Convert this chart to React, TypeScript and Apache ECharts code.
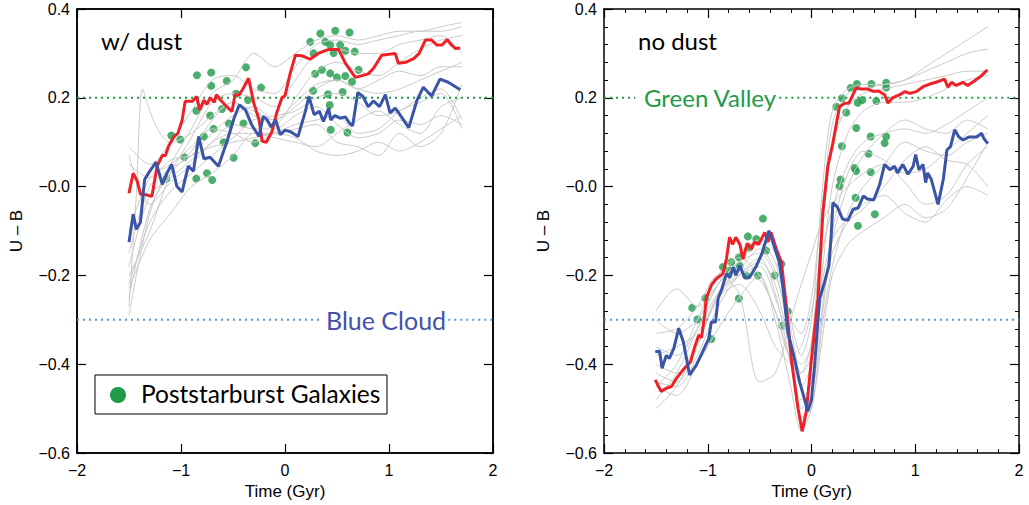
import React, { useEffect, useRef } from "react";
import * as echarts from "echarts";

// ---------- LEFT PANEL (w/ dust) ----------
const TIME_L = [-1.5, -1.3, -1.1, -0.9, -0.7, -0.5, -0.3, -0.1, 0.1, 0.3, 0.5, 0.7, 0.9, 1.1, 1.3, 1.5, 1.7];
const GREY_L: number[][] = [
  [-0.29, -0.06, 0.05, 0.13, 0.21, 0.24, 0.30, 0.27, 0.30, 0.33, 0.34, 0.33, 0.34, 0.35, 0.35, 0.36, 0.37],
  [0.09, 0.05, 0.10, 0.17, 0.24, 0.25, 0.22, 0.21, 0.27, 0.32, 0.33, 0.32, 0.33, 0.34, 0.35, 0.35, 0.36],
  [-0.20, -0.10, 0.03, 0.11, 0.19, 0.21, 0.20, 0.18, 0.24, 0.30, 0.31, 0.30, 0.30, 0.32, 0.33, 0.34, 0.30],
  [-0.25, -0.05, 0.03, 0.08, 0.15, 0.19, 0.16, 0.14, 0.20, 0.26, 0.28, 0.26, 0.25, 0.28, 0.31, 0.33, 0.34],
  [-0.15, 0.00, 0.04, 0.07, 0.12, 0.16, 0.18, 0.15, 0.18, 0.22, 0.24, 0.22, 0.24, 0.26, 0.25, 0.27, 0.27],
  [-0.22, -0.08, -0.01, 0.03, 0.07, 0.11, 0.15, 0.16, 0.17, 0.20, 0.21, 0.19, 0.16, 0.17, 0.20, 0.22, 0.15],
  [-0.10, 0.02, 0.05, 0.09, 0.13, 0.12, 0.10, 0.12, 0.14, 0.15, 0.16, 0.12, 0.13, 0.17, 0.19, 0.21, 0.13],
  [-0.18, -0.02, 0.02, 0.06, 0.10, 0.12, 0.12, 0.11, 0.10, 0.09, 0.12, 0.15, 0.17, 0.14, 0.12, 0.18, 0.20],
  [0.05, 0.02, 0.06, 0.07, 0.09, 0.10, 0.11, 0.12, 0.11, 0.08, 0.07, 0.08, 0.10, 0.08, 0.10, 0.13, 0.16],
  [-0.23, -0.12, -0.06, 0.00, 0.03, 0.07, 0.12, 0.12, 0.13, 0.14, 0.10, 0.09, 0.07, 0.12, 0.09, 0.12, 0.23],
  [0.07, -0.04, 0.01, 0.05, 0.10, 0.14, 0.13, 0.13, 0.16, 0.18, 0.14, 0.11, 0.12, 0.15, 0.14, 0.16, 0.14],
];
const SPIKE_T = [-1.5, -1.43, -1.37, -1.3, -1.2, -1.1, -0.9, -0.7, -0.5, -0.3, -0.1, 0.1, 0.3, 0.5, 0.7, 0.9, 1.1, 1.3, 1.5, 1.7];
const SPIKE_V = [-0.27, -0.02, 0.22, 0.17, 0.12, 0.10, 0.12, 0.16, 0.19, 0.17, 0.15, 0.19, 0.23, 0.24, 0.22, 0.21, 0.22, 0.24, 0.26, 0.28];

const RED_L: [number, number][] = [
  [-1.5, -0.015], [-1.46, 0.03], [-1.42, 0.012], [-1.39, -0.017], [-1.34, -0.018], [-1.28, -0.022], [-1.23, 0.046],
  [-1.18, 0.07], [-1.15, 0.07], [-1.12, 0.091], [-1.07, 0.112], [-1.03, 0.12], [-0.99, 0.149], [-0.96, 0.192],
  [-0.89, 0.192], [-0.85, 0.203], [-0.82, 0.173], [-0.78, 0.195], [-0.75, 0.185], [-0.72, 0.2], [-0.68, 0.19],
  [-0.66, 0.207], [-0.62, 0.195], [-0.56, 0.18], [-0.51, 0.169], [-0.48, 0.207], [-0.44, 0.207], [-0.40, 0.222],
  [-0.35, 0.244], [-0.30, 0.188], [-0.25, 0.151], [-0.22, 0.102], [-0.18, 0.10], [-0.125, 0.124], [-0.08, 0.166],
  [-0.03, 0.2], [0.0, 0.205], [0.05, 0.255], [0.10, 0.296], [0.16, 0.295], [0.24, 0.287], [0.32, 0.30],
  [0.42, 0.309], [0.515, 0.309], [0.58, 0.278], [0.676, 0.246], [0.74, 0.25], [0.80, 0.254], [0.85, 0.266],
  [0.93, 0.296], [1.0, 0.298], [1.06, 0.30], [1.09, 0.278], [1.16, 0.28], [1.24, 0.289], [1.29, 0.30],
  [1.35, 0.33], [1.41, 0.33], [1.46, 0.319], [1.51, 0.319], [1.56, 0.331], [1.60, 0.319], [1.64, 0.311], [1.685, 0.312],
];
const BLUE_L: [number, number][] = [
  [-1.5, -0.125], [-1.46, -0.062], [-1.43, -0.096], [-1.39, -0.08], [-1.35, 0.016], [-1.30, 0.035], [-1.24, 0.055],
  [-1.18, 0.005], [-1.14, 0.028], [-1.09, 0.05], [-1.04, 0.001], [-0.99, -0.012], [-0.93, 0.046], [-0.88, 0.035],
  [-0.83, 0.113], [-0.78, 0.063], [-0.72, 0.066], [-0.64, 0.046], [-0.59, 0.08], [-0.56, 0.10], [-0.49, 0.154],
  [-0.44, 0.184], [-0.38, 0.173], [-0.32, 0.139], [-0.25, 0.113], [-0.21, 0.158], [-0.17, 0.15], [-0.135, 0.134],
  [-0.09, 0.15], [-0.045, 0.117], [0.0, 0.127], [0.05, 0.124], [0.125, 0.113], [0.195, 0.169], [0.23, 0.203],
  [0.28, 0.162], [0.33, 0.17], [0.37, 0.147], [0.42, 0.177], [0.44, 0.15], [0.48, 0.16], [0.53, 0.154],
  [0.58, 0.157], [0.62, 0.143], [0.65, 0.137], [0.70, 0.212], [0.75, 0.203], [0.80, 0.18], [0.85, 0.193],
  [0.91, 0.18], [0.965, 0.207], [1.01, 0.166], [1.06, 0.177], [1.09, 0.167], [1.19, 0.133], [1.27, 0.195],
  [1.33, 0.224], [1.41, 0.204], [1.49, 0.242], [1.57, 0.235], [1.685, 0.218],
];
const DOTS_L: [number, number][] = [
  [0.34, 0.345], [0.483, 0.351], [0.62, 0.347], [0.243, 0.326], [0.387, 0.326], [0.435, 0.319], [0.53, 0.319],
  [0.58, 0.306], [0.67, 0.304], [0.275, 0.30], [0.467, 0.301], [0.29, 0.254], [0.355, 0.263], [0.435, 0.255],
  [0.50, 0.246], [0.58, 0.249], [0.644, 0.236], [0.708, 0.263], [0.27, 0.216], [0.413, 0.208], [0.554, 0.213],
  [0.43, 0.184], [0.44, 0.128], [0.60, 0.122],
  [-0.846, 0.251], [-0.71, 0.257], [-0.56, 0.238], [-0.375, 0.269], [-0.71, 0.227], [-0.23, 0.223], [-0.47, 0.209],
  [-0.356, 0.195], [-0.853, 0.171], [-0.72, 0.16], [-0.606, 0.175], [-0.687, 0.13], [-0.54, 0.142], [-0.40, 0.142],
  [-0.78, 0.113], [-0.59, 0.10], [-0.286, 0.098], [-1.093, 0.115], [-1.007, 0.106], [-0.968, 0.066], [-0.494, 0.065],
  [-0.853, 0.018], [-0.75, 0.03], [-0.70, 0.015], [-1.14, 0.018],
];

// ---------- RIGHT PANEL (no dust) ----------
const TIME_R = [-1.5, -1.3, -1.1, -0.9, -0.7, -0.5, -0.35, -0.2, -0.1, 0, 0.1, 0.2, 0.35, 0.5, 0.7, 0.9, 1.1, 1.3, 1.5, 1.7];
const GREY_R: number[][] = [
  [-0.45, -0.40, -0.30, -0.20, -0.15, -0.12, -0.15, -0.30, -0.38, -0.30, -0.02, 0.17, 0.22, 0.23, 0.23, 0.24, 0.27, 0.30, 0.33, 0.36],
  [-0.48, -0.42, -0.32, -0.22, -0.17, -0.13, -0.17, -0.32, -0.42, -0.35, -0.08, 0.14, 0.21, 0.22, 0.23, 0.24, 0.26, 0.28, 0.30, 0.31],
  [-0.28, -0.23, -0.27, -0.22, -0.17, -0.15, -0.20, -0.30, -0.33, -0.25, -0.05, 0.10, 0.18, 0.21, 0.22, 0.23, 0.24, 0.25, 0.26, 0.26],
  [-0.42, -0.44, -0.36, -0.24, -0.19, -0.14, -0.19, -0.35, -0.45, -0.40, -0.20, 0.00, 0.12, 0.17, 0.19, 0.19, 0.20, 0.22, 0.24, 0.25],
  [-0.30, -0.33, -0.30, -0.22, -0.16, -0.20, -0.28, -0.38, -0.36, -0.28, -0.15, -0.05, 0.05, 0.10, 0.12, 0.13, 0.12, 0.14, 0.17, 0.20],
  [-0.50, -0.45, -0.35, -0.25, -0.20, -0.17, -0.22, -0.38, -0.50, -0.47, -0.30, -0.12, 0.00, 0.07, 0.12, 0.15, 0.13, 0.12, 0.15, 0.13],
  [-0.40, -0.42, -0.35, -0.25, -0.19, -0.21, -0.28, -0.40, -0.52, -0.50, -0.32, -0.18, -0.06, 0.00, 0.05, 0.10, 0.08, 0.07, 0.10, 0.12],
  [-0.36, -0.38, -0.32, -0.24, -0.20, -0.18, -0.25, -0.36, -0.40, -0.36, -0.25, -0.15, -0.08, -0.05, 0.00, 0.06, 0.09, 0.06, 0.05, 0.00],
  [-0.45, -0.47, -0.40, -0.32, -0.25, -0.20, -0.30, -0.45, -0.55, -0.50, -0.35, -0.20, -0.13, -0.10, -0.07, -0.04, -0.07, -0.05, 0.02, 0.10],
  [-0.38, -0.36, -0.33, -0.25, -0.22, -0.28, -0.36, -0.40, -0.42, -0.38, -0.22, -0.12, -0.07, -0.04, -0.02, -0.06, -0.08, -0.03, 0.00, -0.02],
  [-0.33, -0.32, -0.27, -0.20, -0.24, -0.44, -0.42, -0.30, -0.22, -0.15, -0.08, -0.04, 0.00, 0.03, 0.05, 0.01, -0.04, -0.02, 0.05, 0.09],
  [-0.44, -0.45, -0.38, -0.27, -0.20, -0.16, -0.24, -0.40, -0.48, -0.44, -0.28, -0.10, 0.03, 0.08, 0.06, 0.03, 0.04, 0.08, 0.12, 0.16],
];
const RED_R: [number, number][] = [
  [-1.506, -0.435], [-1.45, -0.461], [-1.40, -0.454], [-1.35, -0.45], [-1.30, -0.431], [-1.24, -0.413], [-1.165, -0.394],
  [-1.13, -0.364], [-1.086, -0.334], [-1.06, -0.34], [-1.03, -0.29], [-1.015, -0.252], [-0.966, -0.222], [-0.92, -0.208],
  [-0.854, -0.196], [-0.82, -0.163], [-0.79, -0.114], [-0.76, -0.13], [-0.73, -0.114], [-0.69, -0.13], [-0.66, -0.163],
  [-0.62, -0.128], [-0.58, -0.14], [-0.55, -0.125], [-0.51, -0.13], [-0.45, -0.103], [-0.42, -0.125], [-0.39, -0.103],
  [-0.34, -0.14], [-0.29, -0.17], [-0.24, -0.275], [-0.195, -0.387], [-0.13, -0.499], [-0.09, -0.551], [-0.05, -0.506],
  [0.0, -0.387], [0.062, -0.252], [0.11, -0.058], [0.158, 0.046], [0.206, 0.098], [0.27, 0.18], [0.32, 0.188],
  [0.36, 0.188], [0.43, 0.222], [0.48, 0.22], [0.54, 0.22], [0.59, 0.215], [0.65, 0.215], [0.705, 0.207],
  [0.737, 0.188], [0.78, 0.20], [0.85, 0.207], [0.90, 0.214], [0.95, 0.21], [1.01, 0.214], [1.075, 0.225],
  [1.14, 0.231], [1.2, 0.235], [1.283, 0.242], [1.315, 0.224], [1.35, 0.235], [1.395, 0.228], [1.46, 0.235],
  [1.505, 0.228], [1.57, 0.238], [1.635, 0.249], [1.695, 0.263],
];
const BLUE_R: [number, number][] = [
  [-1.506, -0.372], [-1.465, -0.37], [-1.44, -0.409], [-1.40, -0.38], [-1.37, -0.387], [-1.327, -0.364], [-1.28, -0.319],
  [-1.235, -0.35], [-1.175, -0.424], [-1.11, -0.402], [-1.05, -0.372], [-0.99, -0.342], [-0.966, -0.305], [-0.925, -0.305],
  [-0.90, -0.252], [-0.864, -0.23], [-0.82, -0.196], [-0.79, -0.205], [-0.75, -0.181], [-0.73, -0.20], [-0.69, -0.178],
  [-0.645, -0.205], [-0.60, -0.205], [-0.53, -0.178], [-0.48, -0.152], [-0.41, -0.099], [-0.356, -0.137], [-0.31, -0.17],
  [-0.27, -0.237], [-0.228, -0.327], [-0.18, -0.372], [-0.115, -0.439], [-0.035, -0.506], [0.0, -0.48], [0.03, -0.402],
  [0.078, -0.252], [0.126, -0.215], [0.168, -0.178], [0.19, -0.11], [0.206, -0.036], [0.25, -0.046], [0.30, -0.073],
  [0.35, -0.076], [0.40, -0.051], [0.45, -0.048], [0.50, -0.021], [0.54, -0.028], [0.60, -0.03], [0.657, 0.005],
  [0.705, 0.05], [0.755, 0.038], [0.80, 0.046], [0.83, 0.031], [0.88, 0.05], [0.93, 0.028], [0.98, 0.046],
  [1.004, 0.072], [1.035, 0.038], [1.075, 0.05], [1.10, 0.009], [1.12, 0.031], [1.155, 0.016], [1.22, -0.04],
  [1.27, 0.016], [1.306, 0.083], [1.34, 0.09], [1.38, 0.128], [1.42, 0.112], [1.46, 0.105], [1.52, 0.112],
  [1.59, 0.112], [1.64, 0.12], [1.66, 0.109], [1.70, 0.097],
];
const DOTS_R: [number, number][] = [
  [0.377, 0.222], [0.438, 0.231], [0.577, 0.231], [0.72, 0.234], [0.72, 0.223], [0.293, 0.199], [0.445, 0.189],
  [0.49, 0.195], [0.625, 0.193], [0.239, 0.18], [0.335, 0.167], [0.432, 0.132], [0.293, 0.091], [0.57, 0.113],
  [0.72, 0.113], [0.705, 0.098], [0.55, 0.074], [0.415, 0.042], [0.43, 0.035], [0.57, 0.033], [0.28, 0.016],
  [0.27, 0.001], [0.425, -0.025], [0.61, -0.062], [0.447, -0.088],
  [-0.468, -0.072], [-0.613, -0.112], [-0.532, -0.118], [-0.436, -0.144], [-0.597, -0.137], [-0.70, -0.159],
  [-0.773, -0.17], [-0.854, -0.181], [-0.693, -0.178], [-0.79, -0.189], [-0.629, -0.20], [-0.517, -0.20],
  [-0.356, -0.20], [-0.70, -0.252], [-0.291, -0.174], [-1.15, -0.273], [-1.10, -0.299], [-1.024, -0.251],
  [-0.966, -0.343], [-0.228, -0.281], [-0.282, -0.313],
];

// ---------- reference levels ----------
const GREEN_VALLEY = 0.2;
const BLUE_CLOUD = -0.3;
const GV_SEG_L: [number, number][] = [[-2, 2]];
const BC_SEG_L: [number, number][] = [[-2, 0.36], [1.57, 2]];
const GV_SEG_R: [number, number][] = [[-2, -1.7], [-0.31, 2]];
const BC_SEG_R: [number, number][] = [[-2, 2]];

const X_TICKS = { min: -2, max: 2, interval: 1 };
const Y_TICKS = { min: -0.6, max: 0.4, interval: 0.2 };

const GREEN = "#1f9a48";
const RED = "#ee2126";
const BLUE = "#3a54a6";
const GREY = "#cacaca";
const LIGHTBLUE = "#5b97dc";
const TICKFONT = "'Liberation Sans', Arial, sans-serif";
const GILL = "Lato, 'Open Sans', sans-serif";

const pairs = (t: number[], v: number[]) => t.map((x, i) => [x, v[i]]);
const fmtX = (v: number) => (v < 0 ? "\u2212" + Math.abs(v) : String(v));
const fmtY = (v: number) => {
  const r = Math.round(v * 10) / 10;
  if (Math.abs(r) < 1e-9) return "\u22120.0";
  return r < 0 ? "\u2212" + Math.abs(r).toFixed(1) : r.toFixed(1);
};

function axisCommon(withMinor: boolean) {
  const o: any = {
    type: "value",
    axisLine: { show: true, onZero: false, lineStyle: { color: "#000", width: 1.5 } },
    axisTick: { show: true, inside: true, length: 9, lineStyle: { color: "#000", width: 1.2 } },
    splitLine: { show: false },
  };
  if (withMinor) {
    o.minorTick = { show: true, splitNumber: 5, length: 4, lineStyle: { color: "#000", width: 1 } };
    o.minorSplitLine = { show: false };
  }
  return o;
}

function xAxisDef(grid: number, top: boolean) {
  return {
    ...axisCommon(grid === 1),
    gridIndex: grid,
    position: top ? "top" : "bottom",
    ...X_TICKS,
    axisLabel: top
      ? { show: false }
      : { show: true, fontSize: 16, fontFamily: TICKFONT, color: "#000", margin: 9, formatter: fmtX },
    name: top ? undefined : "Time (Gyr)",
    nameLocation: "middle",
    nameGap: 29,
    nameTextStyle: { fontSize: 17, fontFamily: TICKFONT, color: "#000" },
  };
}
function yAxisDef(grid: number, right: boolean) {
  return {
    ...axisCommon(grid === 1),
    gridIndex: grid,
    position: right ? "right" : "left",
    ...Y_TICKS,
    axisLabel: right
      ? { show: false }
      : { show: true, fontSize: 16, fontFamily: TICKFONT, color: "#000", margin: 7, formatter: fmtY },
    name: right ? undefined : "U \u2013 B",
    nameLocation: "middle",
    nameGap: 52,
    nameTextStyle: { fontSize: 17, fontFamily: TICKFONT, color: "#000" },
  };
}

function panelSeries(axis: number, grey: number[][], time: number[], red: [number, number][], blue: [number, number][], dots: [number, number][], gv: [number, number][], bc: [number, number][]) {
  const s: any[] = [];
  grey.forEach((g) =>
    s.push({ type: "line", xAxisIndex: axis, yAxisIndex: axis, data: pairs(time, g), showSymbol: false, symbol: "none", smooth: 0.3, silent: true, lineStyle: { color: GREY, width: 1 } })
  );
  gv.forEach((seg) =>
    s.push({ type: "line", xAxisIndex: axis, yAxisIndex: axis, data: [[seg[0], GREEN_VALLEY], [seg[1], GREEN_VALLEY]], showSymbol: false, symbol: "none", silent: true, lineStyle: { color: GREEN, width: 2, type: [2, 4] } })
  );
  bc.forEach((seg) =>
    s.push({ type: "line", xAxisIndex: axis, yAxisIndex: axis, data: [[seg[0], BLUE_CLOUD], [seg[1], BLUE_CLOUD]], showSymbol: false, symbol: "none", silent: true, lineStyle: { color: LIGHTBLUE, width: 2, type: [2, 4] } })
  );
  s.push({ type: "scatter", xAxisIndex: axis, yAxisIndex: axis, data: dots, symbolSize: 8, silent: true, itemStyle: { color: GREEN } });
  s.push({ type: "line", xAxisIndex: axis, yAxisIndex: axis, data: red, showSymbol: false, symbol: "none", silent: true, lineStyle: { color: RED, width: 3 } });
  s.push({ type: "line", xAxisIndex: axis, yAxisIndex: axis, data: blue, showSymbol: false, symbol: "none", silent: true, lineStyle: { color: BLUE, width: 3 } });
  return s;
}

function buildOption() {
  const leftSeries = panelSeries(0, GREY_L, TIME_L, RED_L, BLUE_L, DOTS_L, GV_SEG_L, BC_SEG_L);
  leftSeries.unshift({ type: "line", xAxisIndex: 0, yAxisIndex: 0, data: pairs(SPIKE_T, SPIKE_V), showSymbol: false, symbol: "none", smooth: 0.3, silent: true, lineStyle: { color: GREY, width: 1 } });
  const rightSeries = panelSeries(2, GREY_R, TIME_R, RED_R, BLUE_R, DOTS_R, GV_SEG_R, BC_SEG_R);
  return {
    animation: false,
    grid: [
      { left: 77, right: 536, top: 9, bottom: 50, show: true, borderColor: "#000", borderWidth: 1.5 },
      { left: 604, right: 10, top: 9, bottom: 50 },
    ],
    xAxis: [xAxisDef(0, false), xAxisDef(0, true), xAxisDef(1, false), xAxisDef(1, true)],
    yAxis: [yAxisDef(0, false), yAxisDef(0, true), yAxisDef(1, false), yAxisDef(1, true)],
    series: [...leftSeries, ...rightSeries],
    graphic: [
      { type: "text", left: 101, top: 28, style: { text: "w/ dust", font: `24px ${GILL}`, fill: "#000" } },
      { type: "text", left: 638, top: 28, style: { text: "no dust", font: `24px ${GILL}`, fill: "#000" } },
      { type: "text", left: 644, top: 85, style: { text: "Green Valley", font: `24px ${GILL}`, fill: GREEN } },
      { type: "text", left: 326, top: 307, style: { text: "Blue Cloud", font: `25px ${GILL}`, fill: "#4551a9" } },
      { type: "rect", shape: { x: 95, y: 375, width: 292, height: 39 }, style: { fill: "#fff", stroke: "#000", lineWidth: 1 }, z: 10 },
      { type: "circle", shape: { cx: 118, cy: 395, r: 8 }, style: { fill: GREEN }, z: 11 },
      { type: "text", left: 141, top: 381, style: { text: "Poststarburst Galaxies", font: `24.5px ${GILL}`, fill: "#000" }, z: 11 },
    ],
  };
}

export default function App() {
  const ref = useRef<HTMLDivElement>(null);
  useEffect(() => {
    const chart = echarts.init(ref.current!, null, { renderer: "svg" });
    chart.setOption(buildOption() as any);
    return () => chart.dispose();
  }, []);
  return <div ref={ref} style={{ position: "fixed", left: 0, top: 0, width: 1029, height: 505, background: "#fff" }} />;
}
